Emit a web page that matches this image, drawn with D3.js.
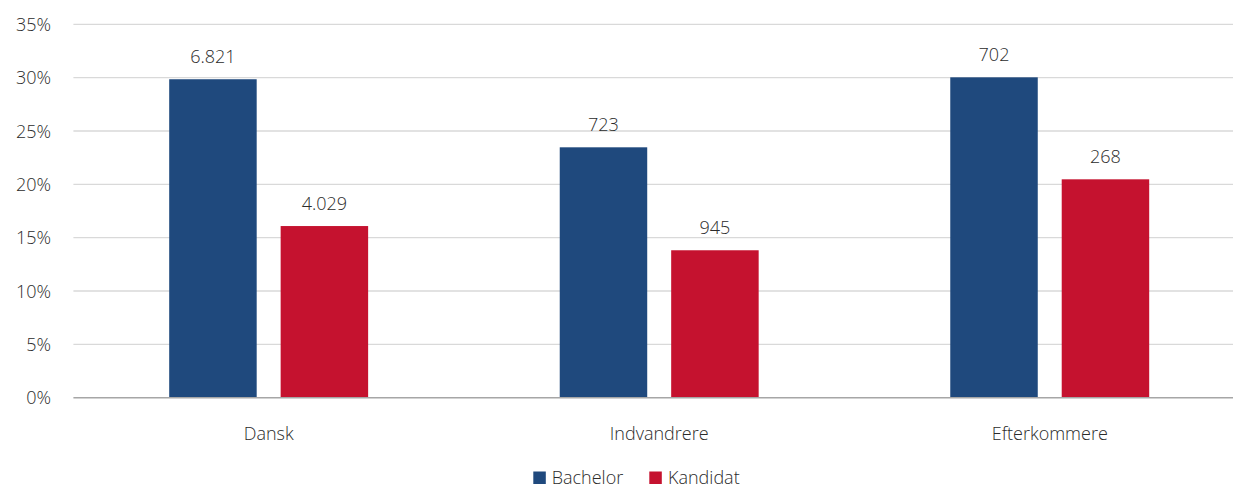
<!DOCTYPE html>
<html><head><meta charset="utf-8">
<script src="https://cdn.jsdelivr.net/npm/d3@7"></script>
<style>
html,body{margin:0;padding:0;background:#fff;}
svg{display:block;font-family:"Open Sans","Noto Sans",sans-serif;font-weight:300;}
</style></head>
<body><svg id="chart" width="1233" height="489"></svg>
<script>
const categories = ["Dansk", "Indvandrere", "Efterkommere"];
const seriesNames = ["Bachelor", "Kandidat"];
const bachelorShare = [0.2985, 0.2347, 0.3003];
const kandidatShare = [0.1609, 0.1382, 0.2047];
const bachelorCount = ["6.821", "723", "702"];
const kandidatCount = ["4.029", "945", "268"];
const yTicks = [0, 0.05, 0.10, 0.15, 0.20, 0.25, 0.30, 0.35];
const colors = ["#1f497d", "#c5122f"];

(function () {
const svg = d3.select("#chart");
const textColor = "#2b2b2b";
const mLeft = 73.4, mRight = 1245, mTop = 24.3, mBottom = 397.7;

const x = d3.scaleBand().domain(categories).range([mLeft, mRight]).paddingInner(0).paddingOuter(0);
const x1 = d3.scaleBand().domain(seriesNames).range([95.8, x.bandwidth() - 95.8]).paddingInner(0.215);
const y = d3.scaleLinear().domain([0, 0.35]).range([mBottom, mTop]);

// gridlines
svg.append("g").selectAll("line").data(yTicks.filter(d => d > 0)).join("line")
  .attr("x1", mLeft).attr("x2", 1233)
  .attr("y1", d => y(d)).attr("y2", d => y(d))
  .attr("stroke", "#d9d9d9").attr("stroke-width", 1.3);

// y axis labels
const yAxis = d3.axisLeft(y).tickValues(yTicks).tickFormat(d3.format(".0%")).tickSize(0).tickPadding(0);
const ya = svg.append("g").attr("transform", "translate(51,0)").call(yAxis);
ya.select(".domain").remove();
ya.selectAll("text").attr("font-size", 18).attr("fill", textColor).attr("font-family", "Open Sans").attr("font-weight", 300).attr("dy", "0.34em");

const data = categories.map((c, i) => ({
  cat: c,
  vals: [
    {s: seriesNames[0], v: bachelorShare[i], lbl: bachelorCount[i]},
    {s: seriesNames[1], v: kandidatShare[i], lbl: kandidatCount[i]}
  ]
}));

const groups = svg.append("g").selectAll("g").data(data).join("g")
  .attr("transform", d => `translate(${x(d.cat)},0)`);

groups.selectAll("rect").data(d => d.vals).join("rect")
  .attr("x", d => x1(d.s)).attr("width", x1.bandwidth())
  .attr("y", d => y(d.v)).attr("height", d => y(0) - y(d.v))
  .attr("fill", (d, i) => colors[i]);

groups.selectAll("text.val").data(d => d.vals).join("text")
  .attr("class", "val")
  .attr("x", d => x1(d.s) + x1.bandwidth() / 2)
  .attr("y", d => y(d.v) - 16.5)
  .attr("text-anchor", "middle").attr("font-size", 18).attr("fill", textColor)
  .text(d => d.lbl);

// x axis baseline
svg.append("line").attr("x1", mLeft).attr("x2", 1233).attr("y1", y(0)).attr("y2", y(0))
  .attr("stroke", "#a6a6a6").attr("stroke-width", 1.5);

// x axis labels
const xAxis = d3.axisBottom(x).tickSize(0).tickPadding(0);
const xa = svg.append("g").attr("transform", `translate(0,${y(0) + 42})`).call(xAxis);
xa.select(".domain").remove();
xa.selectAll("text").attr("font-size", 18).attr("fill", textColor).attr("font-family", "Open Sans").attr("font-weight", 300).attr("dy", 0);

// legend
const legend = svg.append("g");
const legendItems = [{n: seriesNames[0], c: colors[0], sx: 533.3, tx: 551.7}, {n: seriesNames[1], c: colors[1], sx: 649.3, tx: 668}];
legend.selectAll("rect").data(legendItems).join("rect")
  .attr("x", d => d.sx).attr("y", 471.5).attr("width", 12.5).attr("height", 12.5).attr("fill", d => d.c);
legend.selectAll("text").data(legendItems).join("text")
  .attr("x", d => d.tx).attr("y", 483.5).attr("font-size", 18).attr("fill", textColor).text(d => d.n);
})();
</script></body></html>
